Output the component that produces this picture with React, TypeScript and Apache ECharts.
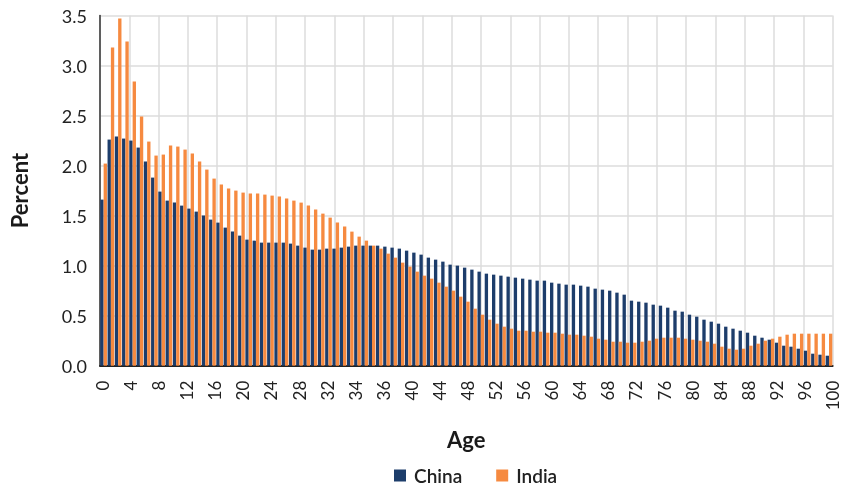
import React, { useEffect, useRef } from "react";
import * as echarts from "echarts";

const ages: string[] = Array.from({ length: 101 }, (_, i) => String(i));

const tickLabels: string[] = [
  "0", "4", "8", "12", "16", "20", "24", "28", "32", "34", "36", "40", "44",
  "48", "52", "56", "60", "64", "68", "72", "76", "80", "84", "88", "92", "96", "100",
];

const china: number[] = [
  1.66, 2.26, 2.29, 2.27, 2.25, 2.18, 2.04, 1.88, 1.74, 1.65,
  1.63, 1.6, 1.57, 1.54, 1.5, 1.46, 1.43, 1.38, 1.34, 1.3,
  1.26, 1.25, 1.23, 1.23, 1.23, 1.23, 1.22, 1.2, 1.18, 1.16,
  1.16, 1.17, 1.17, 1.18, 1.19, 1.2, 1.2, 1.2, 1.2, 1.19,
  1.18, 1.17, 1.15, 1.13, 1.11, 1.08, 1.06, 1.04, 1.01, 1.0,
  0.98, 0.96, 0.94, 0.92, 0.91, 0.9, 0.89, 0.88, 0.87, 0.86,
  0.85, 0.85, 0.83, 0.82, 0.81, 0.81, 0.8, 0.79, 0.77, 0.76,
  0.75, 0.73, 0.71, 0.65, 0.64, 0.63, 0.61, 0.6, 0.58, 0.55,
  0.54, 0.51, 0.49, 0.46, 0.44, 0.42, 0.39, 0.37, 0.35, 0.33,
  0.3, 0.28, 0.26, 0.23, 0.2, 0.19, 0.17, 0.15, 0.12, 0.11,
  0.1,
];

const india: number[] = [
  2.02, 3.18, 3.47, 3.24, 2.84, 2.49, 2.24, 2.1, 2.11, 2.2,
  2.19, 2.16, 2.12, 2.04, 1.96, 1.87, 1.81, 1.77, 1.75, 1.73,
  1.72, 1.72, 1.71, 1.7, 1.69, 1.67, 1.65, 1.63, 1.6, 1.56,
  1.52, 1.48, 1.43, 1.39, 1.34, 1.29, 1.25, 1.2, 1.17, 1.12,
  1.08, 1.03, 0.99, 0.94, 0.9, 0.87, 0.83, 0.79, 0.75, 0.69,
  0.64, 0.57, 0.51, 0.46, 0.42, 0.39, 0.37, 0.35, 0.35, 0.34,
  0.34, 0.33, 0.33, 0.32, 0.31, 0.31, 0.3, 0.29, 0.27, 0.26,
  0.24, 0.24, 0.23, 0.23, 0.24, 0.25, 0.27, 0.28, 0.28, 0.28,
  0.27, 0.26, 0.25, 0.24, 0.22, 0.19, 0.17, 0.16, 0.17, 0.2,
  0.22, 0.25, 0.27, 0.29, 0.31, 0.32, 0.32, 0.32, 0.32, 0.32,
  0.32,
];

const FONT = "Lato, 'Open Sans', sans-serif";
const NAVY = "#1d3d6b";
const ORANGE = "#f68a40";

export default function App() {
  const ref = useRef<HTMLDivElement>(null);
  useEffect(() => {
    document.body.style.margin = "0";
    if (!ref.current) return;
    const chart = echarts.init(ref.current, null, { renderer: "svg" });
    const top = 15.5;
    const bottom = 123.3;
    chart.setOption({
      animation: false,
      textStyle: { fontFamily: FONT },
      grid: [
        { left: 98.3, right: 13.4, top, bottom },
        { left: 102.5, right: 13.5, top, bottom },
      ],
      legend: {
        top: 461,
        left: 389,
        padding: 5,
        icon: "rect",
        itemWidth: 12,
        itemHeight: 12,
        itemGap: 34,
        textStyle: {
          fontSize: 19,
          lineHeight: 19,
          fontWeight: 600,
          color: "#222",
          fontFamily: FONT,
          padding: [0, 0, 0, 3],
        },
        data: ["China", "India"],
      },
      xAxis: [
        {
          type: "category",
          gridIndex: 0,
          data: ages,
          name: "Age",
          nameLocation: "middle",
          nameGap: 63,
          nameTextStyle: { fontSize: 22, fontWeight: "bold", color: "#1a1a1a", fontFamily: FONT },
          axisLine: { show: true, lineStyle: { color: "#222", width: 2 } },
          axisTick: { show: false },
          axisLabel: { show: false },
          splitLine: { show: false },
        },
        {
          type: "value",
          gridIndex: 0,
          position: "top",
          min: 0,
          max: 25,
          interval: 1,
          axisLine: { show: false },
          axisTick: { show: false },
          axisLabel: { show: false },
          splitLine: { show: true, lineStyle: { color: "#dcdcdc", width: 1.5 } },
        },
        {
          type: "category",
          gridIndex: 1,
          data: tickLabels,
          boundaryGap: false,
          axisLine: { show: false },
          axisTick: { show: false },
          axisLabel: {
            interval: 0,
            rotate: 90,
            margin: 15,
            fontSize: 17,
            color: "#222",
            fontFamily: FONT,
          },
          splitLine: { show: false },
        },
      ],
      yAxis: [
        {
          type: "value",
          gridIndex: 0,
          min: 0,
          max: 3.5,
          interval: 0.5,
          name: "Percent",
          nameLocation: "middle",
          nameGap: 70,
          nameTextStyle: { fontSize: 22, fontWeight: "bold", color: "#1a1a1a", fontFamily: FONT },
          axisLine: { show: true, lineStyle: { color: "#333", width: 1.5 } },
          axisTick: { show: false },
          axisLabel: {
            formatter: (v: number) => v.toFixed(1),
            fontSize: 18,
            color: "#222",
            margin: 13,
            fontFamily: FONT,
          },
          splitLine: { show: true, lineStyle: { color: "#dcdcdc", width: 1.5 } },
        },
        { type: "value", gridIndex: 1, show: false, min: 0, max: 1 },
      ],
      series: [
        {
          name: "China",
          type: "bar",
          xAxisIndex: 0,
          yAxisIndex: 0,
          data: china,
          itemStyle: { color: NAVY },
          barGap: "0%",
          barCategoryGap: "8%",
        },
        {
          name: "India",
          type: "bar",
          xAxisIndex: 0,
          yAxisIndex: 0,
          data: india,
          itemStyle: { color: ORANGE },
          barGap: "0%",
          barCategoryGap: "8%",
        },
      ],
    });
    return () => chart.dispose();
  }, []);
  return (
    <div
      ref={ref}
      style={{ position: "fixed", left: 0, top: 0, width: 846, height: 489 }}
    />
  );
}
